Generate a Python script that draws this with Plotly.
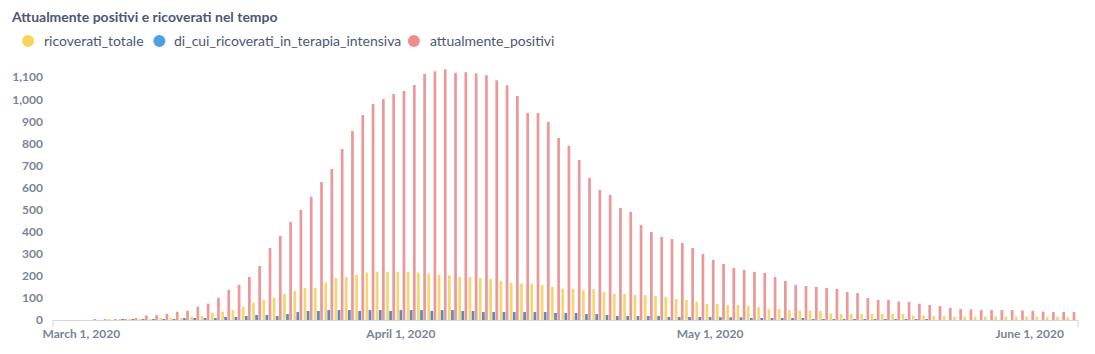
import pandas as pd
import plotly.graph_objects as go

# ---------------- data ----------------
dates = pd.date_range("2020-02-27", "2020-06-05", freq="D").strftime("%Y-%m-%d").tolist()

ricoverati_totale = [
    0, 0, 0,                                    # Feb 27-29
    0, 0, 0, 1, 1, 2, 3, 4, 6, 8,               # Mar 1-10
    9, 15, 18, 33, 38, 45, 60, 79, 91, 101,     # Mar 11-20
    118, 132, 146, 146, 169, 190, 195, 205, 215, 219, 219,  # Mar 21-31
    219, 219, 215, 210, 205, 202, 195, 195, 190, 186,       # Apr 1-10
    178, 169, 165, 165, 159, 150, 142, 142, 136, 140,       # Apr 11-20
    127, 118, 118, 113, 113, 109, 104, 95, 91, 82,          # Apr 21-30
    73, 73, 68, 68, 65, 58, 50, 50, 45, 43,                 # May 1-10
    43, 41, 30, 27, 27, 27, 27, 27, 27, 27,                 # May 11-20
    20, 21, 18, 18, 15, 15, 15, 15, 15, 15, 15,             # May 21-31
    15, 15, 14, 14, 12,                                     # Jun 1-5
]

terapia_intensiva = [
    0, 0, 0,
    0, 0, 0, 0, 1, 1, 2, 3, 3, 4,
    6, 9, 9, 9, 14, 14, 18, 23, 23, 18,
    27, 36, 41, 41, 45, 45, 45, 41, 45, 45, 41,
    45, 45, 45, 41, 45, 45, 41, 41, 36, 36,
    36, 36, 36, 36, 36, 32, 32, 32, 27, 27,
    23, 18, 18, 18, 18, 18, 14, 14, 14, 14,
    14, 13, 12, 12, 9, 8, 8, 6, 5, 5,
    4, 4, 3, 3, 2, 2, 2, 1, 1, 1,
    1, 1, 0, 0, 0, 0, 0, 0, 0, 0, 0,
    0, 0, 0, 0, 0,
]

attualmente_positivi = [
    0, 0, 0,
    0, 1, 2, 3, 4, 8, 21, 22, 28, 37,
    42, 60, 74, 101, 136, 159, 195, 245, 326, 381,
    444, 499, 558, 625, 684, 775, 857, 929, 979, 1002, 1024,
    1038, 1065, 1115, 1127, 1136, 1120, 1123, 1118, 1109, 1086,
    1064, 1015, 938, 938, 898, 825, 789, 725, 644, 589,
    567, 508, 490, 431, 399, 376, 367, 349, 326, 299,
    272, 254, 236, 227, 218, 213, 195, 177, 159, 154,
    150, 145, 141, 127, 122, 100, 91, 91, 84, 82,
    74, 68, 63, 55, 50, 48, 45, 45, 45, 45, 43,
    41, 38, 36, 36, 36,
]

series_names = ["ricoverati_totale", "di_cui_ricoverati_in_terapia_intensiva", "attualmente_positivi"]
bar_colors = ["#F5D670", "#5B8BC2", "#EC9898"]
legend_colors = ["#F9D45C", "#509EE3", "#EF8C8C"]

x_tickvals = ["2020-03-01", "2020-04-01", "2020-05-01", "2020-06-01"]
x_ticktext = ["March 1, 2020", "April 1, 2020", "May 1, 2020", "June 1, 2020"]
y_label_vals = list(range(0, 1101, 100))
y_grid_vals = list(range(100, 1001, 100))

title_text = "Attualmente positivi e ricoverati nel tempo"

# ---------------- layout constants ----------------
W, H = 1095, 354
ML, MR, MT, MB = 47, 17, 66, 34
PW, PH = W - ML - MR, H - MT - MB
FONT = "Lato, 'Open Sans', sans-serif"
TEXT_DARK = "#4C5773"
AXIS_GRAY = "#7A8595"


def px_x(px):
    return (px - ML) / PW


def px_y(py):
    return (H - MB - py) / PH


fig = go.Figure()
for name, vals, col in zip(series_names, [ricoverati_totale, terapia_intensiva, attualmente_positivi], bar_colors):
    fig.add_trace(go.Bar(x=dates, y=vals, name=name, marker=dict(color=col, line=dict(width=0)),
                         showlegend=False))

fig.update_layout(
    width=W, height=H, autosize=False,
    margin=dict(l=ML, r=MR, t=MT, b=MB, pad=0),
    paper_bgcolor="white", plot_bgcolor="white",
    barmode="group", bargap=0.1, bargroupgap=0.12,
    font=dict(family=FONT, color=TEXT_DARK),
    title=dict(text=title_text, x=12 / W, xanchor="left", xref="container",
               y=1 - 17 / H, yanchor="middle", yref="container",
               font=dict(family=FONT, size=14, color=TEXT_DARK, weight=700)),
    xaxis=dict(type="date", range=["2020-02-27 06:00", "2020-06-05 16:30"],
               tickmode="array", tickvals=x_tickvals, ticktext=x_ticktext,
               showgrid=False, zeroline=False, showline=True, linecolor="#D3D7DD", linewidth=1,
               ticks="", ticklabelstandoff=3,
               tickfont=dict(family=FONT, size=12, color=AXIS_GRAY, weight=700)),
    yaxis=dict(range=[0, 1151], tickmode="array", tickvals=y_label_vals,
               ticktext=[f"{v:,}" for v in y_label_vals],
               showgrid=False, zeroline=False, showline=False, ticks="",
               ticklabelstandoff=9,
               tickfont=dict(family=FONT, size=12, color=AXIS_GRAY, weight=700)),
    yaxis2=dict(range=[0, 1151], overlaying="y", anchor="x", side="left",
                tickmode="array", tickvals=y_grid_vals, showticklabels=False,
                showgrid=True, gridcolor="#E4E7EB", gridwidth=1, griddash="6px,4px",
                zeroline=False, showline=False, ticks=""),
)

# axis end ticks
for xp in (0, 1):
    fig.add_shape(type="line", xref="paper", yref="paper", x0=xp, x1=xp, y0=0, y1=-7 / PH,
                  line=dict(color="#D3D7DD", width=1))

# custom legend (dots + labels)
legend_dot_x = [22, 154, 410]
legend_text_x = [36, 167, 424]
legend_y = 41
for name, col, dx, tx in zip(series_names, legend_colors, legend_dot_x, legend_text_x):
    fig.add_shape(type="circle", xref="paper", yref="paper",
                  xsizemode="pixel", ysizemode="pixel",
                  xanchor=px_x(dx), yanchor=px_y(legend_y),
                  x0=-6, x1=6, y0=-6, y1=6,
                  fillcolor=col, line=dict(width=0))
    fig.add_annotation(text=name, xref="paper", yref="paper", x=px_x(tx), y=px_y(legend_y),
                       xanchor="left", yanchor="middle", showarrow=False,
                       font=dict(family=FONT, size=14, color=TEXT_DARK))

fig.write_html("out.html")
